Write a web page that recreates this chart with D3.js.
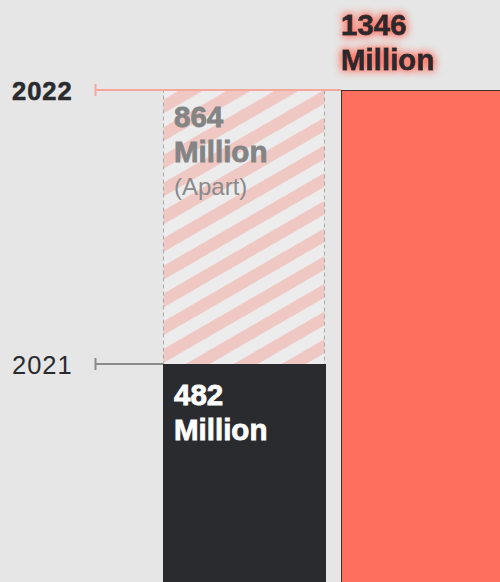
<!DOCTYPE html>
<html>
<head>
<meta charset="utf-8">
<script src="https://cdn.jsdelivr.net/npm/d3@7"></script>
<style>
  html, body { margin: 0; padding: 0; background: #e6e6e6; }
  svg { display: block; font-family: "Liberation Sans", Arial, Helvetica, sans-serif; }
</style>
</head>
<body>
<div id="chart"></div>
<script>
// data
var years = ['2021', '2022'];
var users = [482, 1346];
var gap = [864];
var yearColors = ['#8a8a8a', '#f5a69d'];

var width = 500, height = 582;

var svg = d3.select('#chart').append('svg')
	.attr('width', width)
	.attr('height', height);

// scales
var x = d3.scaleBand()
	.domain(years)
	.range([163, 503])
	.paddingInner(0.09)
	.paddingOuter(0);

var y = d3.scaleLinear()
	.domain([users[0], users[1]])
	.range([364, 90]);

var defs = svg.append('defs');

// diagonal stripes
var pat = defs.append('pattern')
	.attr('id', 'stripes')
	.attr('patternUnits', 'userSpaceOnUse')
	.attr('width', 24)
	.attr('height', 24)
	.attr('patternTransform', 'rotate(-30)');
pat.append('rect').attr('width', 24).attr('height', 24).attr('fill', '#ececec');
pat.append('rect').attr('width', 24).attr('height', 12).attr('fill', '#efc8c4');

// glow behind the top label
var glow = defs.append('filter')
	.attr('id', 'glow')
	.attr('x', '-20%').attr('y', '-30%')
	.attr('width', '140%').attr('height', '160%');
glow.append('feFlood').attr('flood-color', '#ff6f5e').attr('flood-opacity', 1).attr('result', 'c');
glow.append('feComposite').attr('in', 'c').attr('in2', 'SourceAlpha').attr('operator', 'in').attr('result', 'a');
glow.append('feGaussianBlur').attr('in', 'a').attr('stdDeviation', 4).attr('result', 'b');
var merge = glow.append('feMerge');
merge.append('feMergeNode').attr('in', 'b');
merge.append('feMergeNode').attr('in', 'b');
merge.append('feMergeNode').attr('in', 'SourceGraphic');

// hatched "apart" area above the 2021 bar
svg.append('rect')
	.attr('x', x(years[0]) + 0.5)
	.attr('y', y(users[1]) + 0.5)
	.attr('width', x.bandwidth() - 1)
	.attr('height', y(users[0]) - y(users[1]))
	.attr('fill', 'url(#stripes)')
	.attr('stroke', '#a9a9a9')
	.attr('stroke-dasharray', '4,3');

// bars
svg.selectAll('rect.bar')
	.data(years)
	.enter().append('rect')
	.attr('class', 'bar')
	.attr('x', function (d) { return x(d) + 0.5; })
	.attr('y', function (d, i) { return y(users[i]) + 0.5; })
	.attr('width', x.bandwidth())
	.attr('height', function (d, i) { return height - y(users[i]) + 5; })
	.attr('fill', function (d, i) { return i ? '#ff6f5e' : '#2a2b2f'; })
	.attr('stroke', function (d, i) { return i ? '#4a2d2a' : '#2a2b2f'; })
	.attr('stroke-width', 1);

// year guide lines
var guides = svg.selectAll('g.guide')
	.data(years)
	.enter().append('g')
	.attr('class', 'guide');

guides.append('line')
	.attr('x1', 95)
	.attr('x2', function (d, i) { return i ? x(years[1]) : x(years[0]); })
	.attr('y1', function (d, i) { return y(users[i]); })
	.attr('y2', function (d, i) { return y(users[i]); })
	.attr('stroke', function (d, i) { return yearColors[i]; })
	.attr('stroke-width', 2);

guides.append('line')
	.attr('x1', 95.5).attr('x2', 95.5)
	.attr('y1', function (d, i) { return y(users[i]) - 6; })
	.attr('y2', function (d, i) { return y(users[i]) + 6; })
	.attr('stroke', function (d, i) { return yearColors[i]; })
	.attr('stroke-width', 2);

guides.append('text')
	.attr('x', 12)
	.attr('y', function (d, i) { return y(users[i]) + 10; })
	.attr('font-size', 25.5)
	.attr('letter-spacing', 1)
	.attr('font-weight', function (d, i) { return i ? 'bold' : 'normal'; })
	.attr('fill', '#2a2b2f')
	.attr('stroke', function (d, i) { return i ? '#2a2b2f' : 'none'; })
	.attr('stroke-width', 0.6)
	.text(function (d) { return d; });

// labels
function label(tx, ty, lines, fill, filter) {
	var t = svg.append('text')
		.attr('x', tx)
		.attr('y', ty)
		.attr('fill', fill)
		.attr('stroke', fill)
		.attr('stroke-width', 0.8)
		.attr('font-weight', 'bold')
		.attr('font-size', 29.5);
	if (filter) t.attr('filter', filter);
	lines.forEach(function (s, i) {
		t.append('tspan')
			.attr('x', tx)
			.attr('dy', i ? 35 : 0)
			.text(s);
	});
	return t;
}

label(x(years[0]) + 11, y(users[0]) + 41, [users[0], 'Million'], '#ffffff');
label(x(years[1]), y(users[1]) - 55, [users[1], 'Million'], '#2a2b2f', 'url(#glow)');
label(x(years[0]) + 11, y(users[1]) + 37, [gap[0], 'Million'], '#848484');

svg.append('text')
	.attr('x', x(years[0]) + 11)
	.attr('y', y(users[1]) + 105)
	.attr('fill', '#8a8a8a')
	.attr('font-size', 24)
	.text('(Apart)');
</script>
</body>
</html>
